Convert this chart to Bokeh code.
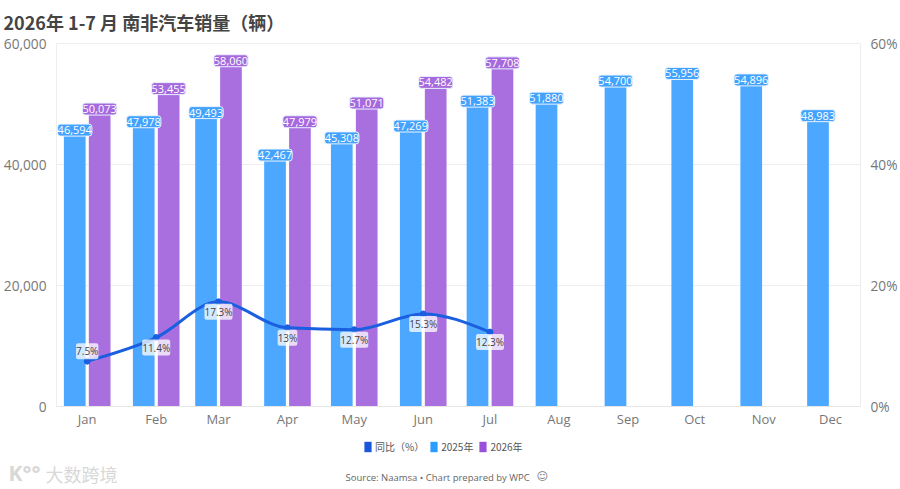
from bokeh.plotting import figure
from bokeh.layouts import column
from bokeh.models import (ColumnDataSource, Range1d, LinearAxis, FixedTicker, NumeralTickFormatter,
                          PrintfTickFormatter, Legend, LegendItem)
from bokeh.core.properties import value
from bokeh.embed import file_html
from bokeh.resources import INLINE
import pandas as pd

months = ["Jan", "Feb", "Mar", "Apr", "May", "Jun", "Jul", "Aug", "Sep", "Oct", "Nov", "Dec"]
sales_2025 = [46594, 47978, 49493, 42467, 45308, 47269, 51383, 51880, 54700, 55956, 54896, 48983]
sales_2026 = [50073, 53455, 58060, 47979, 51071, 54482, 57708]
yoy = [7.5, 11.4, 17.3, 13, 12.7, 15.3, 12.3]
title = "2026年 1-7 月 南非汽车销量（辆）"
source_note = "Source: Naamsa • Chart prepared by WPC"
legend_names = ["同比（%）", "2025年", "2026年"]

DAY = 86400000.0
FONT = "Open Sans"
CJK = "Noto Sans CJK SC"
BLUE, PURPLE, LINE = "#4ba7ff", "#aa6fdf", "#1a5fe0"

dates = [pd.Timestamp(2026, i + 1, 1).timestamp() * 1000 for i in range(12)]

p = figure(width=900, height=436, output_backend="svg", toolbar_location=None,
           x_axis_type="datetime",
           x_range=Range1d(dates[0] - 13.8 * DAY, dates[0] + 347.5 * DAY),
           y_range=Range1d(0, 60000),
           min_border_left=56, min_border_right=40, min_border_top=43, min_border_bottom=30,
           background_fill_color="white", border_fill_color="white",
           outline_line_color="#eeeeee", frame_align=False)
p.extra_y_ranges = {"pct": Range1d(0, 60)}

p.xgrid.visible = False
p.ygrid.grid_line_color = "#eeeeee"
p.ygrid.ticker = FixedTicker(ticks=[0, 20000, 40000, 60000])

def style(ax, size):
    ax.axis_line_color = None
    ax.major_tick_line_color = None
    ax.minor_tick_line_color = None
    ax.major_tick_out = 0
    ax.major_tick_in = 0
    ax.minor_tick_out = 0
    ax.minor_tick_in = 0
    ax.major_label_text_color = "#777777"
    ax.major_label_text_font = FONT
    ax.major_label_text_font_size = size

xa = p.xaxis[0]
style(xa, "13px")
xa.axis_line_color = "#e6e6e6"
xa.ticker = FixedTicker(ticks=dates)
xa.major_label_overrides = {d: m for d, m in zip(dates, months)}
xa.major_label_standoff = 3

ya = p.yaxis[0]
style(ya, "13.7px")
ya.ticker = FixedTicker(ticks=[0, 20000, 40000, 60000])
ya.formatter = NumeralTickFormatter(format="0,0")
ya.major_label_standoff = 10

yr = LinearAxis(y_range_name="pct", ticker=FixedTicker(ticks=[0, 20, 40, 60]),
                formatter=PrintfTickFormatter(format="%d%%"))
style(yr, "13.7px")
yr.major_label_standoff = 10
p.add_layout(yr, "right")

p.title.text = title
p.title.text_font = CJK
p.title.text_font_size = "18px"
p.title.text_font_style = "bold"
p.title.text_color = "#444444"
p.title.align = "left"
p.title.offset = -53
p.title.standoff = 13
p.title.vertical_align = "top"

BAR_W = 9.75 * DAY
OFF = 5.6 * DAY
src25 = ColumnDataSource(dict(x=[d - OFF for d in dates], y=sales_2025,
                              t=[f"{v:,}" for v in sales_2025]))
src26 = ColumnDataSource(dict(x=[d + OFF for d in dates[:7]], y=sales_2026,
                              t=[f"{v:,}" for v in sales_2026]))
p.vbar(x="x", top="y", width=BAR_W, source=src25, fill_color=BLUE, line_color=None)
p.vbar(x="x", top="y", width=BAR_W, source=src26, fill_color=PURPLE, line_color=None)

# monotone-X curve through the y/y values
xs = dates[:7]
n = len(yoy)
sl = [(yoy[i + 1] - yoy[i]) / (xs[i + 1] - xs[i]) for i in range(n - 1)]
tan = [0.0] * n
for i in range(1, n - 1):
    if sl[i - 1] * sl[i] > 0:
        h0, h1 = xs[i] - xs[i - 1], xs[i + 1] - xs[i]
        pm = (sl[i - 1] * h1 + sl[i] * h0) / (h0 + h1)
        tan[i] = (1 if sl[i] > 0 else -1) * min(abs(sl[i - 1]), abs(sl[i]), 0.5 * abs(pm)) * 2
tan[0] = (3 * sl[0] - tan[1]) / 2
tan[-1] = (3 * sl[-1] - tan[-2]) / 2
bz = dict(x0=xs[:-1], y0=yoy[:-1], x1=xs[1:], y1=yoy[1:],
          cx0=[xs[i] + (xs[i + 1] - xs[i]) / 3 for i in range(n - 1)],
          cy0=[yoy[i] + tan[i] * (xs[i + 1] - xs[i]) / 3 for i in range(n - 1)],
          cx1=[xs[i + 1] - (xs[i + 1] - xs[i]) / 3 for i in range(n - 1)],
          cy1=[yoy[i + 1] - tan[i + 1] * (xs[i + 1] - xs[i]) / 3 for i in range(n - 1)])
p.bezier(x0="x0", y0="y0", x1="x1", y1="y1", cx0="cx0", cy0="cy0", cx1="cx1", cy1="cy1",
         source=ColumnDataSource(bz), y_range_name="pct", line_color=LINE, line_width=3)
p.scatter(xs, yoy, y_range_name="pct", size=6, fill_color=LINE, line_color=LINE)

for src, col in ((src25, "#43a2fd"), (src26, "#a669de")):
    p.text(x="x", y="y", text="t", source=src, text_align="center", text_baseline="middle",
           y_offset=5.5, text_color="white", text_font=value(FONT), text_font_size="11px",
           background_fill_color=col, border_line_color="#e8f3ff", border_line_width=1,
           border_radius=3, padding=(0, 2))

psrc = ColumnDataSource(dict(x=xs, y=yoy, t=[f"{v}%" for v in yoy],
                             dy=[-10 if i == 0 else 10 for i in range(n)]))
p.text(x="x", y="y", text="t", source=psrc, y_range_name="pct", text_align="center",
       text_baseline="middle", y_offset="dy", text_color="#444444", text_font=value(FONT),
       text_font_size="10px", background_fill_color="white", background_fill_alpha=0.75,
       border_radius=2, padding=(0, 1))

# footer: pixel-space strip holding the legend, source note and watermark
f = figure(width=900, height=52, output_backend="svg", toolbar_location=None,
           x_range=Range1d(0, 900), y_range=Range1d(52, 0), min_border=0, frame_align=False,
           outline_line_color=None, border_fill_color="white", background_fill_color="white")
f.axis.visible = False
f.grid.visible = False

nan = float("nan")
sw = []
for c in ("#1a56db", "#2a9dff", "#9a4fdc"):
    sw.append(f.vbar(x=[nan], top=[nan], width=1, fill_color=c, line_color=None))
legend = Legend(items=[LegendItem(label=value(l), renderers=[r]) for l, r in zip(legend_names, sw)],
                orientation="horizontal", location=(363, 34), background_fill_alpha=0,
                border_line_color=None, glyph_width=9, glyph_height=13, label_standoff=3,
                spacing=5, padding=0, margin=0, label_text_font=CJK, label_text_font_size="10px",
                label_text_color="#555555", label_height=13)
f.add_layout(legend, "center")

def note(text, x, y, size, color, font=FONT, style="normal"):
    f.text(x=[x], y=[y], text=[text], text_font=value(font), text_font_size=size, text_color=color,
           text_align="left", text_baseline="middle", text_font_style=style)

note(source_note, 345, 41, "9.5px", "#666666")
note("☺", 536, 40, "11px", "#777777", "DejaVu Sans")
note("K°°", 8, 36, "21px", "#d8d8d8", "Open Sans", "bold")
note("大数跨境", 45, 37, "18px", "#d8d8d8", CJK)

open("out.html", "w").write(file_html(column(p, f, spacing=0), INLINE))
